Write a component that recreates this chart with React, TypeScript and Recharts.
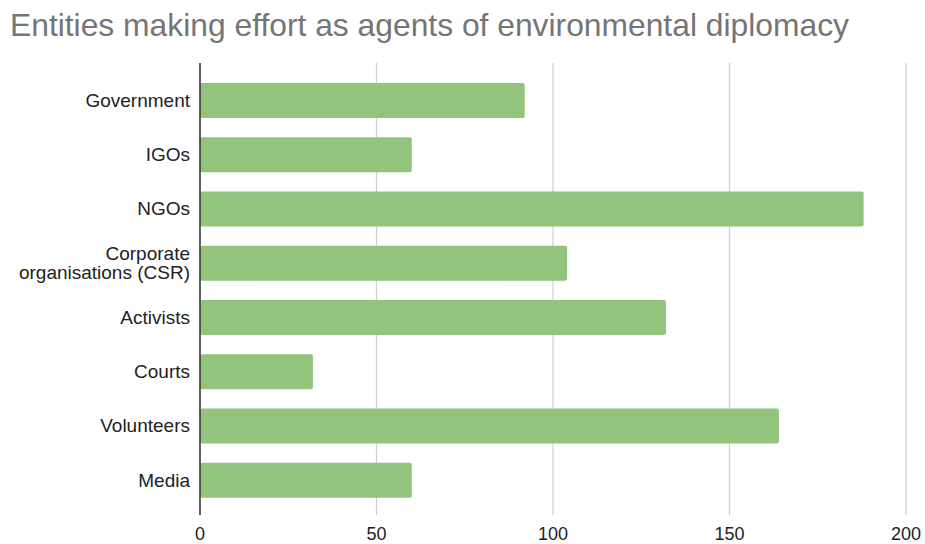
import { BarChart, Bar, XAxis, YAxis, CartesianGrid } from 'recharts';

const categories = [
  'Government',
  'IGOs',
  'NGOs',
  'Corporate\norganisations (CSR)',
  'Activists',
  'Courts',
  'Volunteers',
  'Media',
];
const counts = [92, 60, 188, 104, 132, 32, 164, 60];
const xTicks = [0, 50, 100, 150, 200];

const data = categories.map((name, i) => ({ name, value: counts[i] }));

const FONT = '"Liberation Sans", Arial, sans-serif';

// right-aligned category label, split on "\n" into stacked lines
function CategoryTick({ x, y, payload }: any) {
  const lines = String(payload.value).split('\n');
  const lineH = 19;
  const startY = y - ((lines.length - 1) * lineH) / 2;
  const tx = x - 2;
  return (
    <text x={tx} y={startY} textAnchor="end" fontSize={19} fill="#222" fontFamily={FONT}>
      {lines.map((line, i) => (
        <tspan key={i} x={tx} y={startY + i * lineH} dy="0.35em">
          {line}
        </tspan>
      ))}
    </text>
  );
}

export default function App() {
  return (
    <div style={{ position: 'absolute', left: 0, top: 0, width: 925, height: 544, background: '#fff', fontFamily: FONT }}>
      <div style={{ position: 'absolute', left: 10, top: 7, fontSize: 31.8, color: '#757575', whiteSpace: 'nowrap' }}>
        Entities making effort as agents of environmental diplomacy
      </div>
      <BarChart
        width={925}
        height={544}
        data={data}
        layout="vertical"
        margin={{ top: 63, right: 19, bottom: 0, left: 0 }}
      >
        <CartesianGrid horizontal={false} stroke="#cfcfcf" strokeWidth={1.2} />
        <XAxis
          type="number"
          domain={[0, 200]}
          ticks={xTicks}
          axisLine={false}
          tickLine={false}
          tickMargin={6}
          tick={{ fontSize: 18, fill: '#222', fontFamily: FONT }}
          height={29}
        />
        <YAxis
          type="category"
          dataKey="name"
          width={200}
          padding={{ top: 10, bottom: 8 }}
          axisLine={{ stroke: '#333', strokeWidth: 1.5 }}
          tickLine={false}
          tick={<CategoryTick />}
          interval={0}
        />
        <Bar dataKey="value" fill="#93c47d" barSize={35} radius={2} isAnimationActive={false} />
      </BarChart>
    </div>
  );
}
